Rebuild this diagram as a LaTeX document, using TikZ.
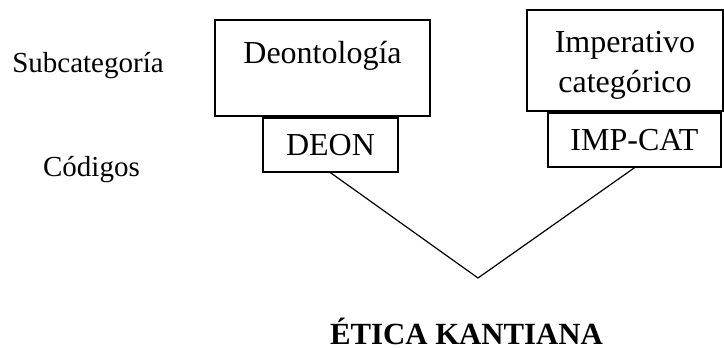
\documentclass[tikz,border=0pt]{standalone}
\usepackage{fontspec}
\setmainfont{Liberation Serif}
\usetikzlibrary{positioning}
\newcommand{\catstrut}{\rule{0pt}{15.5pt}}
\tikzset{catbox/.style={rectangle,draw=black,line width=0.9pt,align=center,inner sep=0pt,font=\fontsize{16}{20}\selectfont}}
\tikzset{codebox/.style={rectangle,draw=black,line width=0.9pt,inner sep=0pt,minimum height=27pt,font=\fontsize{16}{20}\selectfont}}
\tikzset{rowlabel/.style={font=\fontsize{14.5}{17}\selectfont}}

\begin{document}
\begin{tikzpicture}[x=0.5pt,y=-0.5pt]
  \useasboundingbox (0,0) rectangle (724,348);
  \node[rowlabel] (sub) at (88,66) {Subcategoría};
  \node[rowlabel] (cod) at (91.5,170) {Códigos};
  \node[catbox,minimum width=107.5pt,minimum height=48pt] (deon) at (322.5,68) {\catstrut Deontología\\ \mbox{}};
  \node[catbox,minimum width=98pt,minimum height=50.5pt] (imp) at (625,60.5) {\catstrut Imperativo\\categórico};
  \node[codebox,minimum width=67.5pt,below=0pt of deon,xshift=4pt] (deoncode) {DEON};
  \node[codebox,minimum width=86.5pt,below=0pt of imp,xshift=4.75pt] (impcode) {IMP-CAT};
  \coordinate (v) at (478,278);
  \draw[line width=0.6pt] (deoncode.south) -- (v) -- (impcode.south);
  \node[font=\bfseries\fontsize{15.4}{18}\selectfont] (etica) at (466.5,331) {ÉTICA KANTIANA};
\end{tikzpicture}
\end{document}
